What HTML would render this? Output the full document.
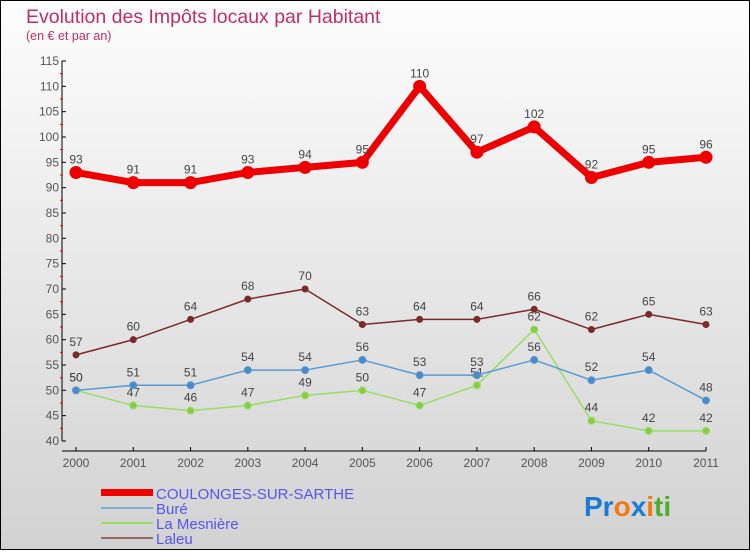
<!DOCTYPE html>
<html><head><meta charset="utf-8"><style>
html,body{margin:0;padding:0}
body{width:750px;height:550px;overflow:hidden;font-family:"Liberation Sans",sans-serif}
#wrap{position:relative;width:748px;height:548px;border:1px solid #000;background:linear-gradient(#fdfdfd,#d2d2d2)}
</style></head><body>
<div id="wrap">
<svg id="chart" width="748" height="548">
<text x="25" y="22" font-size="19.5" fill="#c0305e">Evolution des Impôts locaux par Habitant</text>
<text x="25" y="39" font-size="12.5" fill="#c0305e">(en € et par an)</text>
<g id="axes"></g><g id="series"></g>
<g font-size="15" fill="#5555ee">
<rect x="100" y="488" width="52" height="7" fill="#e00"/>
<text x="155" y="498">COULONGES-SUR-SARTHE</text>
<line x1="100" y1="507" x2="152" y2="507" stroke="#7aaed6" stroke-width="2"/>
<text x="155" y="513">Buré</text>
<line x1="100" y1="522" x2="152" y2="522" stroke="#99dd66" stroke-width="2"/>
<text x="155" y="528">La Mesnière</text>
<line x1="100" y1="537" x2="152" y2="537" stroke="#996666" stroke-width="2"/>
<text x="155" y="543">Laleu</text>
</g>
<text x="583" y="515" font-size="28" font-weight="bold"><tspan fill="#1a7ad4">Pr</tspan><tspan fill="#f07a10">o</tspan><tspan fill="#1a7ad4">x</tspan><tspan fill="#f07a10">i</tspan><tspan fill="#4cae2c">ti</tspan></text>
</svg>
</div>
<script>
const years=[2000,2001,2002,2003,2004,2005,2006,2007,2008,2009,2010,2011];
const coulonges=[93,91,91,93,94,95,110,97,102,92,95,96];
const bure=[50,51,51,54,54,56,53,53,56,52,54,48];
const mesniere=[50,47,46,47,49,50,47,51,62,44,42,42];
const laleu=[57,60,64,68,70,63,64,64,66,62,65,63];
const yTicks=[40,45,50,55,60,65,70,75,80,85,90,95,100,105,110,115];
const NS="http://www.w3.org/2000/svg";
const xS=i=>75+i*(630/11);
const yS=v=>60+(115-v)*(380/75);
function mk(tag,attrs,parent){const e=document.createElementNS(NS,tag);for(const k in attrs)e.setAttribute(k,attrs[k]);parent.appendChild(e);return e;}
const ax=document.getElementById('axes');
let l=mk('line',{x1:61,y1:yS(115),x2:61,y2:yS(40),stroke:'#000'},ax);


l=mk('line',{x1:61,y1:450,x2:705,y2:450,stroke:'#000'},ax);


yTicks.forEach(v=>{
 mk('line',{x1:61,y1:yS(v),x2:65,y2:yS(v),stroke:'#000'},ax);
 if(v<115) mk('line',{x1:59,y1:yS(v+2.5),x2:62,y2:yS(v+2.5),stroke:'#e00'},ax);
 const t=mk('text',{x:58,y:yS(v)+4,'font-size':12,fill:'#555','text-anchor':'end'},ax);t.textContent=v;
 
 
});
years.forEach((y,i)=>{
 mk('line',{x1:xS(i),y1:446,x2:xS(i),y2:450,stroke:'#000'},ax);
 const t=mk('text',{x:xS(i),y:466,'font-size':12,fill:'#555','text-anchor':'middle'},ax);t.textContent=y;
 
 
});
const sg=document.getElementById('series');
function draw(data,name,color,w,r,dot){
 const g=mk('g',{},sg);
 
 
 const p=mk('polyline',{points:data.map((v,i)=>xS(i)+','+yS(v)).join(' '),fill:'none',stroke:color,'stroke-width':w,'stroke-linejoin':'round'},g);
 
 
 data.forEach((v,i)=>{
  const c=mk('circle',{cx:xS(i),cy:yS(v),r:r,fill:dot,stroke:color,'stroke-width':1},g);
  
  
  const t=mk('text',{x:xS(i),y:yS(v)-9,'font-size':12,fill:'#444','text-anchor':'middle'},g);t.textContent=v;
  
  
 });
}
draw(laleu,'laleu','#7a2a2a',1.5,3,'#7a2a2a');
draw(mesniere,'la-mesniere','#99dd66',1.5,3.5,'#88cc44');
draw(bure,'bure','#5a9ad0',1.5,3.5,'#4a8ac8');
draw(coulonges,'coulonges','#ee0000',7,6,'#ee0000');
</script>
</body></html>
